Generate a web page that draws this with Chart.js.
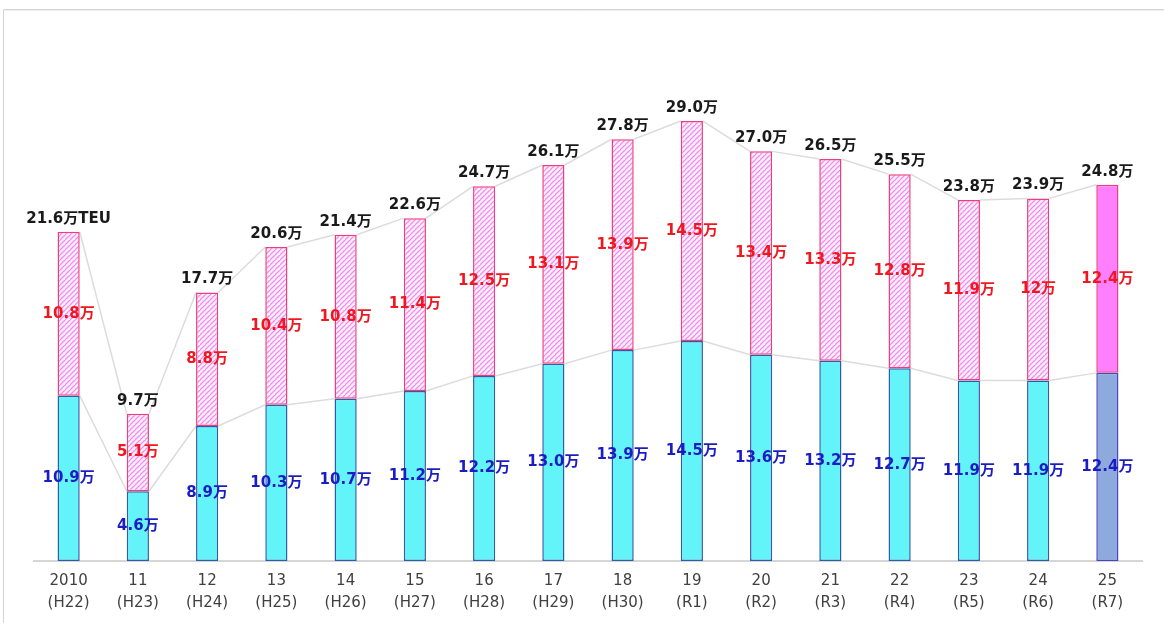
<!DOCTYPE html>
<html lang="ja">
<head>
<meta charset="utf-8">
<title>取扱量の推移</title>
<script src="https://cdn.jsdelivr.net/npm/chart.js@4/dist/chart.umd.min.js"></script>
<style>
  html, body { margin: 0; padding: 0; background: #ffffff; }
  #wrap { width: 1164px; height: 623px; position: relative; }
</style>
</head>
<body>
<div id="wrap"><canvas id="c" width="1164" height="623"></canvas></div>
<script>
// Year labels (western year / era year)
const years = ['2010', '11', '12', '13', '14', '15', '16', '17', '18', '19', '20', '21', '22', '23', '24', '25'];
const eras  = ['(H22)', '(H23)', '(H24)', '(H25)', '(H26)', '(H27)', '(H28)', '(H29)', '(H30)', '(R1)', '(R2)', '(R3)', '(R4)', '(R5)', '(R6)', '(R7)'];

// Lower segment (blue labels), 万TEU
const lowerValues = [10.9, 4.6, 8.9, 10.3, 10.7, 11.2, 12.2, 13.0, 13.9, 14.5, 13.6, 13.2, 12.7, 11.9, 11.9, 12.4];
// Upper segment (red labels), 万TEU
const upperValues = [10.8, 5.1, 8.8, 10.4, 10.8, 11.4, 12.5, 13.1, 13.9, 14.5, 13.4, 13.3, 12.8, 11.9, 12, 12.4];
// Totals shown above each bar, 万TEU
const totalValues = [21.6, 9.7, 17.7, 20.6, 21.4, 22.6, 24.7, 26.1, 27.8, 29.0, 27.0, 26.5, 25.5, 23.8, 23.9, 24.8];

const FONT = '"DejaVu Sans", "Noto Sans CJK JP", sans-serif';
const canvas = document.getElementById('c');
const ctx2d = canvas.getContext('2d');

// Diagonal hatch for the upper segment
function makeHatch() {
  const s = 5;
  const t = document.createElement('canvas');
  t.width = s; t.height = s;
  const g = t.getContext('2d');
  g.fillStyle = '#fff0ff';
  g.fillRect(0, 0, s, s);
  g.strokeStyle = '#f08cee';
  g.lineWidth = 1.3;
  g.beginPath();
  g.moveTo(-1, s + 1); g.lineTo(s + 1, -1);
  g.moveTo(-1 - s, s + 1); g.lineTo(1, -1);
  g.moveTo(s - 1, 2 * s + 1); g.lineTo(2 * s + 1, s - 1);
  g.stroke();
  return ctx2d.createPattern(t, 'repeat');
}
const hatch = makeHatch();
const lastIdx = years.length - 1;

// Outer frame
const framePlugin = {
  id: 'frame',
  beforeDraw(chart) {
    const c = chart.ctx;
    c.save();
    c.strokeStyle = '#d4d4d4';
    c.lineWidth = 1;
    c.beginPath();
    c.moveTo(3.5, 623); c.lineTo(3.5, 9.5); c.lineTo(1164, 9.5);
    c.stroke();
    c.strokeStyle = '#eeeeee';
    c.beginPath();
    c.moveTo(4.5, 10.5); c.lineTo(1164, 10.5);
    c.stroke();
    c.restore();
  }
};

// Thin grey connectors between the tops of matching segments of neighbouring bars
const seriesLinesPlugin = {
  id: 'seriesLines',
  beforeDatasetsDraw(chart) {
    const c = chart.ctx;
    c.save();
    c.strokeStyle = '#dcdcdc';
    c.lineWidth = 1.5;
    [0, 1].forEach(d => {
      const els = chart.getDatasetMeta(d).data;
      c.beginPath();
      for (let i = 0; i < els.length - 1; i++) {
        const a = els[i], b = els[i + 1];
        c.moveTo(a.x + a.width / 2, a.y);
        c.lineTo(b.x - b.width / 2, b.y);
      }
      c.stroke();
    });
    c.restore();
  }
};

// Value labels on and above the bars
const valueLabelsPlugin = {
  id: 'valueLabels',
  afterDatasetsDraw(chart) {
    const c = chart.ctx;
    const low = chart.getDatasetMeta(0).data;
    const up = chart.getDatasetMeta(1).data;
    c.save();
    c.font = 'bold 15px ' + FONT;
    c.textAlign = 'center';
    c.textBaseline = 'middle';
    for (let i = 0; i < low.length; i++) {
      const a = low[i], b = up[i];
      c.fillStyle = '#1c1cc4';
      c.fillText(lowerValues[i].toFixed(1) + '万', a.x, (a.y + a.base) / 2);
      c.fillStyle = '#f01820';
      c.fillText(String(upperValues[i]) + '万', b.x, (b.y + b.base) / 2);
      c.fillStyle = '#1a1a1a';
      const t = totalValues[i].toFixed(1) + '万' + (i === 0 ? 'TEU' : '');
      c.fillText(t, b.x, b.y - 13);
    }
    c.restore();
  }
};

new Chart(canvas, {
  type: 'bar',
  data: {
    labels: years.map((y, i) => [y, eras[i]]),
    datasets: [
      {
        label: 'lower',
        data: lowerValues,
        backgroundColor: ctx => ctx.dataIndex === lastIdx ? '#8eaadc' : '#62f4f8',
        borderColor: ctx => ctx.dataIndex === lastIdx ? '#4444c4' : '#2a5ea8',
        borderWidth: 1.5,
        borderSkipped: false,
        categoryPercentage: 0.32,
        barPercentage: 1
      },
      {
        label: 'upper',
        data: upperValues,
        backgroundColor: ctx => ctx.dataIndex === lastIdx ? '#ff80ff' : hatch,
        borderColor: '#ea3f78',
        borderWidth: 1.5,
        borderSkipped: false,
        categoryPercentage: 0.32,
        barPercentage: 1
      }
    ]
  },
  options: {
    responsive: false,
    animation: false,
    layout: { padding: { top: 30, left: 34, right: 22, bottom: 0 } },
    plugins: {
      legend: { display: false },
      tooltip: { enabled: false }
    },
    scales: {
      x: {
        stacked: true,
        grid: { display: false, drawTicks: false },
        border: { display: true, color: '#d6d6d6', width: 2 },
        ticks: {
          color: '#404040',
          padding: 9,
          font: { family: FONT, size: 15, lineHeight: 22 / 15 }
        }
      },
      y: {
        stacked: true,
        display: false,
        min: 0,
        max: 35
      }
    }
  },
  plugins: [framePlugin, seriesLinesPlugin, valueLabelsPlugin]
});
</script>
</body>
</html>
